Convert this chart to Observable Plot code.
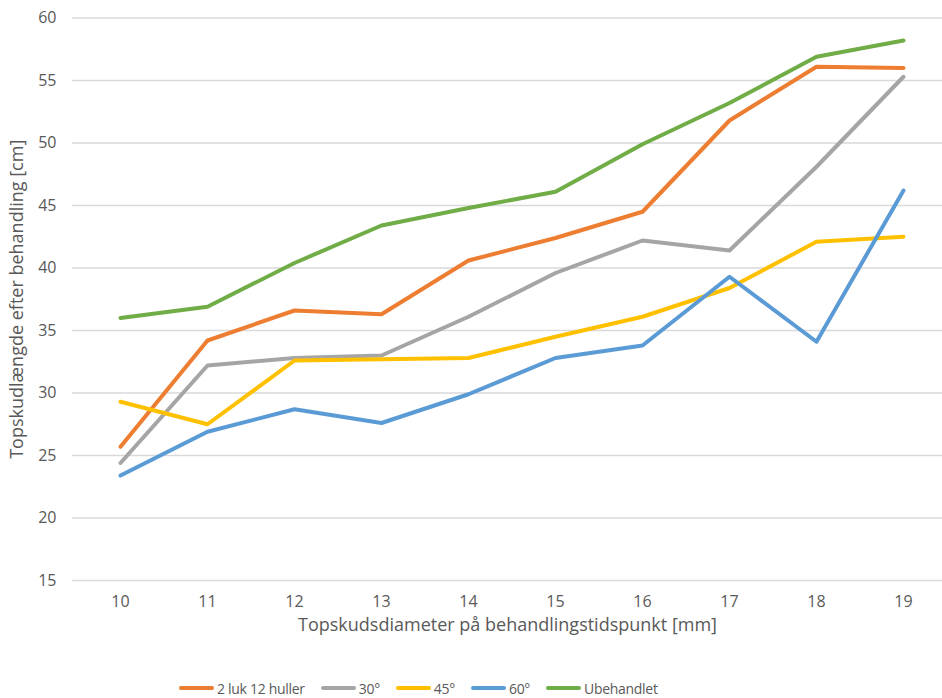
<!DOCTYPE html>
<html>
<head>
<meta charset="utf-8">
<script src="https://cdn.jsdelivr.net/npm/d3@7"></script>
<script src="https://cdn.jsdelivr.net/npm/@observablehq/plot@0.6"></script>
<style>
  html, body { margin: 0; padding: 0; background: #fff; }
  body { width: 942px; height: 698px; overflow: hidden; font-family: "Open Sans", sans-serif; }
  #legend { display: flex; justify-content: flex-start; align-items: center; height: 38px; padding-left: 171px; margin-top: 29px; color: #595959; font-size: 14px; letter-spacing: -0.3px; font-family: "Open Sans", sans-serif; }
  .item { display: flex; align-items: center; margin: 0 8px; }
  .sw { width: 35px; height: 4px; border-radius: 2px; margin-right: 3px; }
</style>
</head>
<body>
<div id="chart"></div>
<div id="legend"></div>
<script>
const categories = ["10", "11", "12", "13", "14", "15", "16", "17", "18", "19"];
const seriesNames = ["2 luk 12 huller", "30°", "45°", "60°", "Ubehandlet"];
const luk12 =      [25.7, 34.2, 36.6, 36.3, 40.6, 42.4, 44.5, 51.8, 56.1, 56.0];
const deg30 =      [24.4, 32.2, 32.8, 33.0, 36.1, 39.6, 42.2, 41.4, 48.1, 55.3];
const deg45 =      [29.3, 27.5, 32.6, 32.7, 32.8, 34.5, 36.1, 38.4, 42.1, 42.5];
const deg60 =      [23.4, 26.9, 28.7, 27.6, 29.9, 32.8, 33.8, 39.3, 34.1, 46.2];
const ubehandlet = [36.0, 36.9, 40.4, 43.4, 44.8, 46.1, 49.9, 53.2, 56.9, 58.2];
const yTicks = [15, 20, 25, 30, 35, 40, 45, 50, 55, 60];

const seriesValues = [luk12, deg30, deg45, deg60, ubehandlet];
const colors = ["#ED7D31", "#A5A5A5", "#FFC000", "#5B9BD5", "#70AD47"];

const rows = [];
seriesNames.forEach((name, s) => {
  categories.forEach((c, i) => rows.push({series: name, cat: c, value: seriesValues[s][i]}));
});

const chart = Plot.plot({
  width: 942,
  height: 640,
  marginTop: 17.5,
  marginBottom: 60,
  marginLeft: 72,
  marginRight: 0,
  style: { fontFamily: "'Open Sans', sans-serif", fontSize: "16px", color: "#595959", background: "#fff" },
  x: { type: "point", domain: categories, range: [116.5, 907], padding: 0 },
  y: { domain: [15, 60] },
  color: { domain: seriesNames, range: colors },
  marks: [
    Plot.ruleY(yTicks, { stroke: "#D9D9D9", strokeWidth: 1.3 }),
    Plot.axisY(yTicks, { tickSize: 0, tickPadding: 16, fontSize: 16, label: "Topskudlængde efter behandling [cm]", labelAnchor: "center", labelOffset: 62, labelArrow: "none" }),
    Plot.axisX({ tickSize: 0, tickPadding: 15, fontSize: 16, label: "Topskudsdiameter på behandlingstidspunkt [mm]", labelAnchor: "center", labelOffset: 50, labelArrow: "none" }),
    Plot.line(rows, { x: "cat", y: "value", z: "series", stroke: "series", strokeWidth: 4, strokeLinejoin: "round", strokeLinecap: "round" })
  ]
});
chart.querySelectorAll("[aria-label='y-axis label'] text, [aria-label='x-axis label'] text").forEach(t => t.setAttribute("font-size", "18px"));
document.getElementById("chart").appendChild(chart);

const legend = document.getElementById("legend");
seriesNames.forEach((name, i) => {
  const item = document.createElement("div");
  item.className = "item";
  const sw = document.createElement("div");
  sw.className = "sw";
  sw.style.background = colors[i];
  const lab = document.createElement("span");
  lab.textContent = name;
  item.appendChild(sw);
  item.appendChild(lab);
  legend.appendChild(item);
});
</script>
</body>
</html>
